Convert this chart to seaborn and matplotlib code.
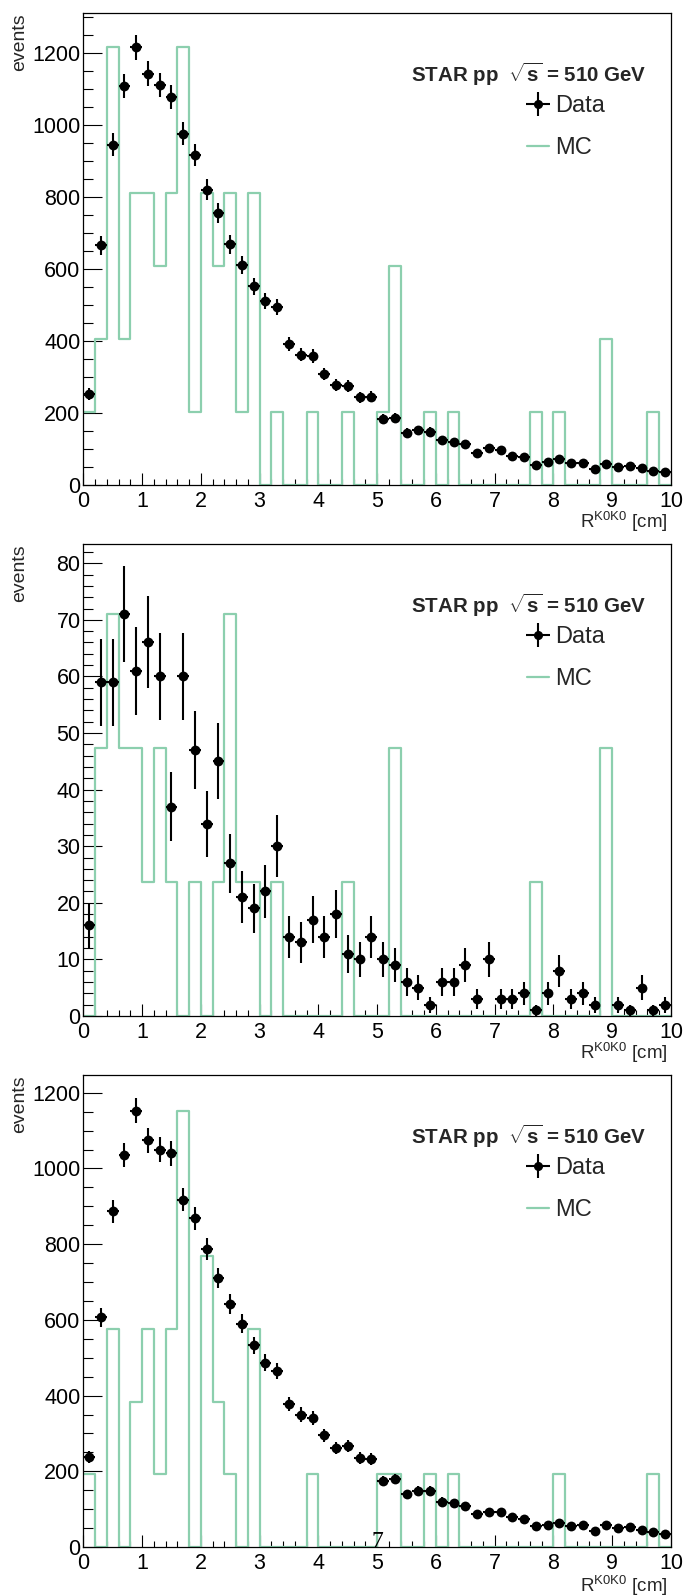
import numpy as np
import pandas as pd
import matplotlib
matplotlib.use("Agg")
import matplotlib.pyplot as plt
from matplotlib.ticker import MultipleLocator
from matplotlib.lines import Line2D
import seaborn as sns

# ---------------- data ----------------
bin_edges = [round(0.2 * k, 2) for k in range(51)]
bin_centers = [round(0.1 + 0.2 * k, 2) for k in range(50)]

data1 = [252, 665, 945, 1108, 1215, 1142, 1110, 1077, 975, 915,
         820, 755, 668, 610, 552, 510, 493, 392, 362, 358,
         308, 278, 275, 243, 245, 183, 187, 145, 152, 148,
         125, 120, 115, 90, 103, 96, 80, 78, 56, 63,
         71, 60, 62, 45, 57, 51, 52, 48, 39, 36]
mc1 = [202.5, 405, 1215, 405, 810, 810, 607.5, 810, 1215, 202.5,
       810, 607.5, 810, 202.5, 810, 0, 202.5, 0, 0, 202.5,
       0, 0, 202.5, 0, 0, 202.5, 607.5, 0, 0, 202.5,
       0, 202.5, 0, 0, 0, 0, 0, 0, 202.5, 0,
       202.5, 0, 0, 0, 405, 0, 0, 0, 202.5, 0]

data2 = [16, 59, 59, 71, 61, 66, 60, 37, 60, 47,
         34, 45, 27, 21, 19, 22, 30, 14, 13, 17,
         14, 18, 11, 10, 14, 10, 9, 6, 5, 2,
         6, 6, 9, 3, 10, 3, 3, 4, 1, 4,
         8, 3, 4, 2, 0, 2, 1, 5, 1, 2]
mc2 = [0, 47.33, 71, 47.33, 47.33, 23.67, 47.33, 23.67, 0, 23.67,
       0, 23.67, 71, 23.67, 23.67, 0, 23.67, 0, 0, 0,
       0, 0, 23.67, 0, 0, 0, 47.33, 0, 0, 0,
       0, 0, 0, 0, 0, 0, 0, 0, 23.67, 0,
       0, 0, 0, 0, 47.33, 0, 0, 0, 0, 0]

data3 = [237, 607, 887, 1035, 1153, 1075, 1050, 1040, 917, 868,
         787, 710, 642, 590, 533, 487, 465, 378, 350, 342,
         295, 262, 267, 235, 232, 175, 180, 140, 148, 148,
         120, 115, 107, 87, 93, 93, 78, 75, 55, 58,
         64, 56, 58, 43, 58, 50, 52, 45, 40, 35]
mc3 = [192.2, 0, 576.5, 0, 384.3, 576.5, 192.2, 576.5, 1153, 0,
       768.7, 384.3, 192.2, 0, 576.5, 0, 0, 0, 0, 192.2,
       0, 0, 0, 0, 0, 192.2, 192.2, 0, 0, 192.2,
       0, 192.2, 0, 0, 0, 0, 0, 0, 0, 0,
       192.2, 0, 0, 0, 0, 0, 0, 0, 192.2, 0]

y_limits = [1310, 83.4, 1247]
y_major = [200, 10, 200]
y_minor = [50, 2, 50]
x_ticks = [0, 1, 2, 3, 4, 5, 6, 7, 8, 9, 10]

header = r"STAR pp  $\sqrt{\mathbf{s}}$ = 510 GeV"
legend_labels = ["Data", "MC"]
xlabel = r"R$^{\mathrm{K0K0}}$ [cm]"
ylabel = "events"

# ---------------- style ----------------
sns.set_theme(style="ticks")
plt.rcParams["font.family"] = ["Liberation Sans", "DejaVu Sans"]
plt.rcParams["mathtext.fontset"] = "custom"
plt.rcParams["mathtext.rm"] = "Liberation Sans"
plt.rcParams["mathtext.bf"] = "Liberation Sans:bold"
plt.rcParams["mathtext.it"] = "Liberation Sans:italic"

MC_COLOR = "#8ccfae"
W, H = 685, 1596
fig = plt.figure(figsize=(W / 100, H / 100), dpi=100)

panels = [(data1, mc1), (data2, mc2), (data3, mc3)]
tops = [13, 544, 1075]
xlabel_y = [-0.052, -0.052, -0.056]
ph = 472
left_px, right_px = 83.3, 671

for i, (dvals, mvals) in enumerate(panels):
    top = tops[i]
    ax = fig.add_axes([left_px / W, 1 - (top + ph) / H, (right_px - left_px) / W, ph / H])
    ax.set_facecolor("white")

    df = pd.DataFrame({"x": bin_centers, "data": np.array(dvals, float), "mc": np.array(mvals, float)})

    # MC step histogram
    sns.histplot(x=df["x"], weights=df["mc"], bins=bin_edges, element="step",
                 fill=False, color=MC_COLOR, linewidth=1.6, ax=ax)

    # Data points with sqrt(N) errors (skip empty bins)
    dd = df[df["data"] > 0]
    ax.errorbar(dd["x"], dd["data"], yerr=np.sqrt(dd["data"]), xerr=0.1,
                fmt="none", ecolor="black", elinewidth=1.5, capsize=0, zorder=3)
    sns.scatterplot(x=dd["x"], y=dd["data"], color="black", s=50, edgecolor="black",
                    linewidth=0, ax=ax, zorder=4)

    ax.set_xlim(0, 10)
    ax.set_ylim(0, y_limits[i])
    ax.set_xticks(x_ticks)
    ax.xaxis.set_minor_locator(MultipleLocator(0.2))
    ax.yaxis.set_major_locator(MultipleLocator(y_major[i]))
    ax.yaxis.set_minor_locator(MultipleLocator(y_minor[i]))
    ax.tick_params(axis="both", which="both", direction="in", top=False, right=False,
                   colors="black", labelsize=15.5)
    ax.tick_params(axis="x", which="major", length=8.5, width=0.8, pad=4.5)
    ax.tick_params(axis="x", which="minor", length=4.3, width=0.8)
    ax.tick_params(axis="y", which="major", length=14, width=0.8, pad=2)
    ax.tick_params(axis="y", which="minor", length=7, width=0.8)
    for sp in ax.spines.values():
        sp.set_visible(True)
        sp.set_color("black")
        sp.set_linewidth(0.9)

    ax.set_xlabel(xlabel, fontsize=13.5, loc="right")
    ax.xaxis.set_label_coords(0.995, xlabel_y[i])
    ax.set_ylabel(ylabel, fontsize=14, loc="top")
    ax.yaxis.set_label_coords(-0.094, 1.0)

    ax.text(0.959, 0.869, header, transform=ax.transAxes, ha="right", va="center",
            fontsize=14.8, fontweight="bold")

    h_data = ax.errorbar([], [], yerr=[], xerr=[], fmt="o", color="black", ms=5.5,
                         elinewidth=1.5, capsize=0)
    h_mc = Line2D([], [], color=MC_COLOR, lw=1.6)
    ax.legend([h_data, h_mc], legend_labels, loc="upper left",
              bbox_to_anchor=(0.755, 0.826), frameon=False, fontsize=17,
              handlelength=0.95, handletextpad=0.25, labelspacing=0.85,
              borderpad=0, borderaxespad=0)

    if i == 2:
        ax.text(5.0, 0, "7", ha="center", va="baseline", fontsize=17,
                family=["Liberation Serif", "DejaVu Serif"], color="black", zorder=5)

fig.savefig("out.png", dpi=100, facecolor="white")
